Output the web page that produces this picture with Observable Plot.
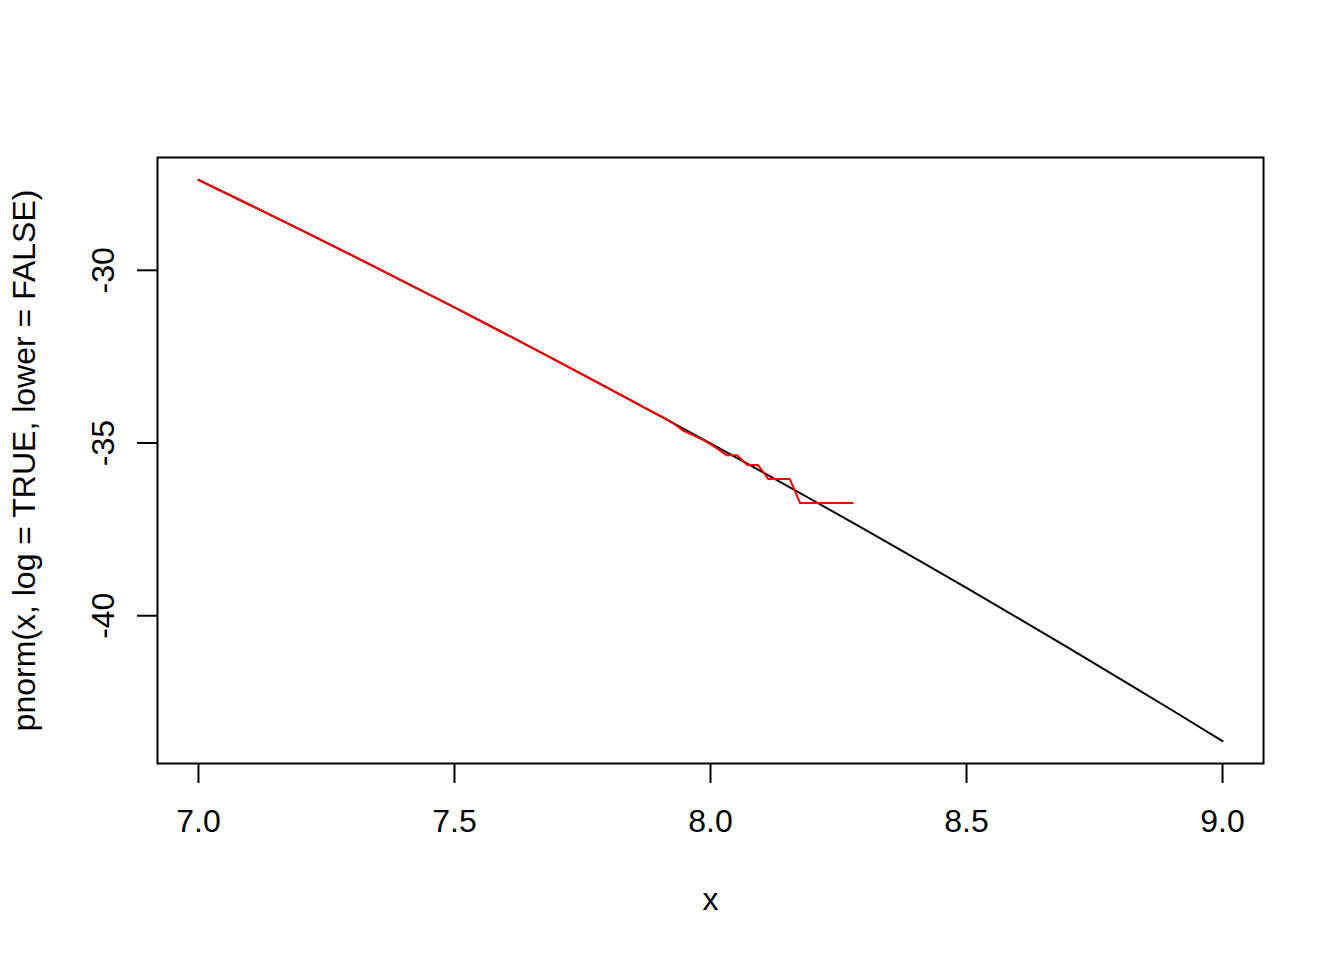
<!DOCTYPE html>
<html>
<head>
<meta charset="utf-8">
<script src="https://cdn.jsdelivr.net/npm/d3@7"></script>
<script src="https://cdn.jsdelivr.net/npm/@observablehq/plot@0.6"></script>
<style>
  html, body { margin: 0; padding: 0; background: #ffffff; }
  #chart svg { display: block; }
</style>
</head>
<body>
<div id="chart"></div>
<script>
// Black curve: pnorm(x, log = TRUE, lower = FALSE)
const blackX = [7.0, 7.1, 7.2, 7.3, 7.4, 7.5, 7.6, 7.7, 7.8, 7.9, 8.0, 8.1, 8.2, 8.3, 8.4, 8.5, 8.6, 8.7, 8.8, 8.9, 9.0];
const blackY = [-27.384, -28.103, -28.832, -29.570, -30.318, -31.076, -31.844, -32.621, -33.409, -34.206, -35.013, -35.831, -36.657, -37.494, -38.341, -39.197, -40.064, -40.940, -41.826, -42.722, -43.628];

// Red curve: log(1 - pnorm(x)), stepping once precision runs out
const redX = [7.0, 7.1, 7.2, 7.3, 7.4, 7.5, 7.6, 7.7, 7.8, 7.887, 7.907, 7.928, 7.948, 7.969, 7.990, 8.010, 8.031, 8.052, 8.072, 8.093, 8.113, 8.134, 8.155, 8.175, 8.196, 8.216, 8.237, 8.258, 8.278];
const redY = [-27.384, -28.103, -28.832, -29.570, -30.318, -31.076, -31.844, -32.621, -33.409, -34.098, -34.252, -34.434, -34.657, -34.791, -34.945, -35.127, -35.351, -35.351, -35.638, -35.638, -36.044, -36.044, -36.044, -36.737, -36.737, -36.737, -36.737, -36.737, -36.737];

const xTicks = [7.0, 7.5, 8.0, 8.5, 9.0];
const yTicks = [-30, -35, -40];
const xLabel = "x";
const yLabel = "pnorm(x, log = TRUE, lower = FALSE)";

const black = blackX.map((x, i) => ({x, y: blackY[i]}));
const red = redX.map((x, i) => ({x, y: redY[i]}));

const chart = Plot.plot({
  width: 1344,
  height: 960,
  marginLeft: 157,
  marginRight: 81,
  marginTop: 157,
  marginBottom: 197,
  style: {fontFamily: "'Liberation Sans', Arial, Helvetica, sans-serif", fontSize: "32px", background: "#ffffff", color: "#000000"},
  x: {domain: [6.92, 9.08]},
  y: {domain: [-44.278, -26.7345]},
  marks: [
    Plot.frame({stroke: "#000000", strokeWidth: 2}),
    Plot.axisX({ticks: xTicks, tickSize: 20, tickPadding: 26, strokeWidth: 2, tickFormat: d => d.toFixed(1), label: null}),
    Plot.axisY({ticks: yTicks, tickSize: 20, strokeWidth: 2, tickFormat: () => "", label: null}),
    Plot.text(yTicks, {y: d => d, text: d => String(d), frameAnchor: "left", dx: -44, rotate: -90, textAnchor: "middle", lineAnchor: "bottom", fill: "#000000", fontSize: 32}),
    Plot.text([xLabel], {text: d => d, frameAnchor: "bottom", dy: 146, lineAnchor: "bottom", textAnchor: "middle", fill: "#000000", fontSize: 32}),
    Plot.text([yLabel], {text: d => d, frameAnchor: "left", dx: -123, rotate: -90, lineAnchor: "bottom", textAnchor: "middle", fill: "#000000", fontSize: 32}),
    Plot.line(black, {x: "x", y: "y", stroke: "#000000", strokeWidth: 2}),
    Plot.line(red, {x: "x", y: "y", stroke: "#FF0000", strokeWidth: 2})
  ]
});
document.getElementById("chart").appendChild(chart);
</script>
</body>
</html>
